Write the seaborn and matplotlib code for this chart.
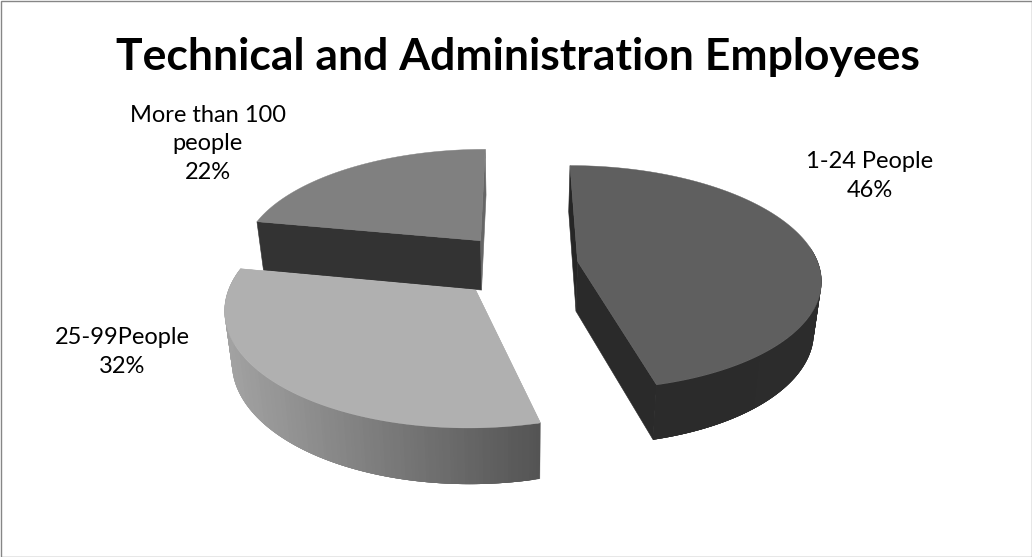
import numpy as np
import matplotlib
matplotlib.use("Agg")
import matplotlib.pyplot as plt
from matplotlib.patches import Rectangle
import seaborn as sns

# Survey shares
categories = ["1-24 People", "25-99People", "More than 100\npeople"]
shares = [46, 32, 22]

# Shading of each slice
top_colors = ["#5f5f5f", "#b0b0b0", "#808080"]
rim_colors = [("#2a2a2a", "#2c2c2c"), ("#a2a2a2", "#545454"), ("#666666", "#666666")]
lead_colors = ["#262626", "#b0b0b0", "#333333"]
trail_colors = ["#2a2a2a", "#b0b0b0", "#666666"]
label_centers = [(870, 176), (122, 352), (208, 144)]

sns.set_theme(style="white")
plt.rcParams["font.family"] = ["Lato", "DejaVu Sans"]

# Perspective model of the exploded disc, in figure pixels
VX, VY = 518.0, 265.5
RADIUS_X, RADIUS_Y = 241.0, 110.7
KEYSTONE = 0.145
EXPLODE_X, EXPLODE_Y = 0.25, 33.0
DEPTH = 50.0
BASE_SCALE = 0.975
RIM_FACING_LIMIT = 0.15


def project(u, v, mid, lower=False):
    ox, oy = np.sin(mid) * EXPLODE_X, np.cos(mid)
    w = 1 + KEYSTONE * (np.asarray(v) + oy * 0.24)
    scale = BASE_SCALE if lower else 1.0
    x = VX + (np.asarray(u) + ox) * RADIUS_X * scale / w
    y = VY - (np.asarray(v) * RADIUS_Y + oy * EXPLODE_Y) * scale / w
    if lower:
        y = y + DEPTH / w
    return x, y


fig = plt.figure(figsize=(10.32, 5.57), dpi=100)
ax = fig.add_axes([0, 0, 1, 1])
ax.set_xlim(0, 1032)
ax.set_ylim(557, 0)
ax.axis("off")

edges = np.deg2rad(np.cumsum([0] + shares) * 3.6)
order = [2, 0, 1]

for layer, i in enumerate(order, start=1):
    a0, a1, mid = edges[i], edges[i + 1], (edges[i] + edges[i + 1]) / 2
    t = np.linspace(a0, a1, 160)
    u, v = np.sin(t), np.cos(t)
    xt, yt = project(u, v, mid)
    xb, yb = project(u, v, mid, lower=True)
    ax_t, ay_t = project(0.0, 0.0, mid)
    ax_b, ay_b = project(0.0, 0.0, mid, lower=True)

    # Radial walls, leading and trailing
    ax.fill([xt[0], ax_t, ax_b, xb[0]], [yt[0], ay_t, ay_b, yb[0]],
            color=lead_colors[i], lw=0.4, zorder=layer)
    ax.fill([xt[-1], ax_t, ax_b, xb[-1]], [yt[-1], ay_t, ay_b, yb[-1]],
            color=trail_colors[i], lw=0.4, zorder=layer)

    # Outer rim, front-facing part only, with a left-to-right shade;
    # strips overlap so no seams show
    ramp = sns.blend_palette(list(rim_colors[i]), 64)
    lo, hi = xb.min(), xb.max()
    for j in range(len(t) - 1):
        if v[j] > RIM_FACING_LIMIT:
            continue
        k = min(j + 4, len(t) - 1)
        shade = ramp[int(63 * ((xb[j] - lo) / (hi - lo)))]
        ax.fill([xt[j], *xt[j + 1:k + 1], *xb[j + 1:k + 1][::-1], xb[j]],
                [yt[j], *yt[j + 1:k + 1], *yb[j + 1:k + 1][::-1], yb[j]],
                color=shade, lw=0, zorder=layer)

    # Top face
    ax.fill(np.r_[ax_t, xt], np.r_[ay_t, yt], color=top_colors[i], lw=0.3, zorder=layer)

for name, share, (cx, cy) in zip(categories, shares, label_centers):
    ax.text(cx, cy, f"{name}\n{share}%", ha="center", va="center",
            fontsize=17, color="black", linespacing=1.43, zorder=10)

ax.text(518, 57, "Technical and Administration Employees", ha="center", va="center",
        fontsize=32, fontweight="bold", color="black", zorder=10)

ax.add_patch(Rectangle((0.5, 0.5), 1031, 556, fill=False, ec="#868686", lw=1, zorder=11))

fig.savefig("out.png", dpi=100)
